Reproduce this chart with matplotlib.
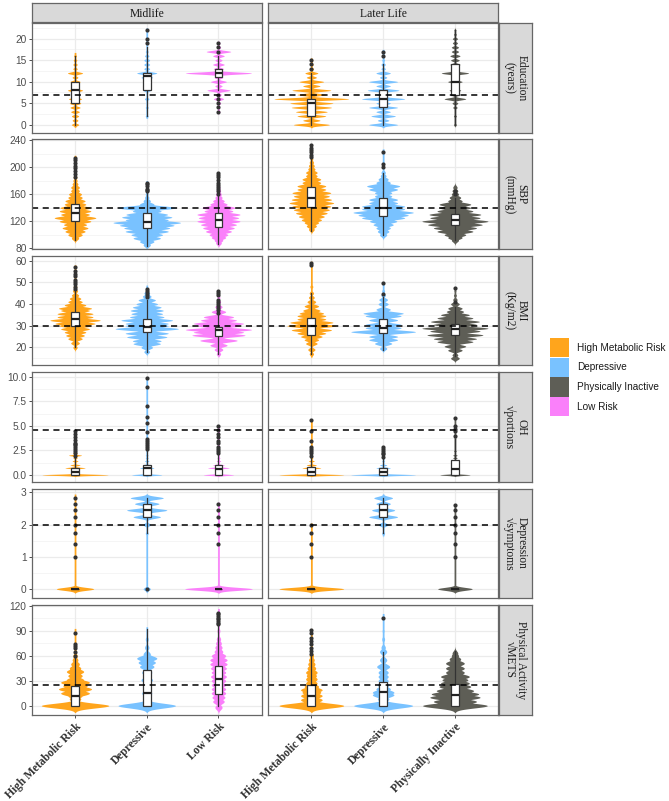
import numpy as np
import matplotlib
matplotlib.use("Agg")
import matplotlib.pyplot as plt
from matplotlib.patches import Rectangle

# ---------------- data ----------------
stages = ["Midlife", "Later Life"]
cats_mid = ["High Metabolic Risk", "Depressive", "Low Risk"]
cats_late = ["High Metabolic Risk", "Depressive", "Physically Inactive"]
legend_labels = ["High Metabolic Risk", "Depressive", "Physically Inactive", "Low Risk"]
colors = {"High Metabolic Risk": "#FFA51C", "Depressive": "#79C2FF",
          "Physically Inactive": "#5E5E56", "Low Risk": "#FA80FA"}

row_labels = ["Education\n(years)", "SBP\n(mmHg)", "BMI\n(Kg/m2)", "OH\n\u221aportions",
              "Depression\n\u221asymptoms", "Physical Activity\n\u221aMETS"]
ref_lines = [7, 140, 30, 4.6, 2, 24.5]
yticks = [[0, 5, 10, 15, 20], [80, 120, 160, 200, 240], [20, 30, 40, 50, 60],
          [0, 2.5, 5, 7.5, 10], [0, 1, 2, 3], [0, 30, 60, 90, 120]]
ytick_labels = [["0", "5", "10", "15", "20"], ["80", "120", "160", "200", "240"],
                ["20", "30", "40", "50", "60"], ["0.0", "2.5", "5.0", "7.5", "10.0"],
                ["0", "1", "2", "3"], ["0", "30", "60", "90", "120"]]

# violin ranges (min,max), density peaks (value, half width), box (wlo,q1,med,q3,whi), outliers
# order: mid HMR, mid Dep, mid LR, late HMR, late Dep, late PI
edu_range = [(-0.6, 16.8), (1.5, 22.5), (3, 19), (-0.7, 15.5), (-0.7, 17.5), (-0.3, 22)]
edu_peaks = [
    [(0, .05), (1, .04), (2, .05), (3, .06), (4, .07), (5, .08), (6, .09), (7, .06), (8, .105), (9, .05),
     (10, .07), (11, .04), (12, .105), (13, .03), (14, .03), (15, .025), (16, .02)],
    [(2, .02), (4, .02), (6, .03), (8, .05), (9, .04), (10, .05), (11, .08), (12, .14), (13, .04), (14, .04),
     (15, .04), (16, .03), (17, .02)],
    [(3, .02), (5, .03), (6, .07), (7, .04), (8, .16), (9, .05), (10, .11), (11, .06), (12, .46), (13, .07),
     (14, .08), (15, .05), (16, .08), (17, .17), (18, .03), (19, .02)],
    [(0, .25), (1, .12), (2, .2), (3, .22), (4, .28), (5, .3), (6, .52), (7, .2), (8, .27), (9, .12),
     (10, .17), (11, .07), (12, .09), (13, .03), (14, .025), (15, .02)],
    [(0, .2), (1, .08), (2, .17), (3, .1), (4, .2), (5, .1), (6, .3), (7, .1), (8, .22), (9, .1), (10, .2),
     (11, .05), (12, .1), (13, .03), (14, .03), (15, .02), (16, .02), (17, .015)],
    [(0, .02), (2, .02), (4, .03), (5, .04), (6, .15), (7, .06), (8, .08), (9, .06), (10, .1), (11, .06),
     (12, .19), (13, .06), (14, .07), (15, .06), (16, .07), (17, .05), (18, .05), (19, .035), (20, .035),
     (21, .02), (22, .015)]]
edu_box = [(0, 5, 8, 10, 16), (2, 8, 11.3, 12, 18), (8, 11, 12, 13, 16),
           (0, 2, 5, 6, 12), (0, 4, 6, 8, 14), (0, 7, 10, 14, 22)]
edu_out = [[], [19, 20, 22], [3, 4, 5, 6, 7, 17, 18, 19], [13, 14, 15], [16, 17], []]

sbp_range = [(92.5, 217.5), (83, 180), (85, 192.5), (105, 234.5), (98, 227), (90, 172)]
sbp_peaks = [
    [(95, .05), (100, .1), (105, .14), (110, .18), (115, .16), (120, .22), (125, .29), (130, .2), (135, .22),
     (140, .21), (145, .15), (150, .14), (155, .1), (160, .09), (165, .06), (170, .06), (175, .04),
     (180, .03), (185, .025)],
    [(85, .05), (90, .1), (95, .19), (100, .22), (105, .3), (110, .32), (114, .38), (118, .47), (122, .3),
     (126, .35), (130, .29), (135, .2), (140, .4), (145, .1), (150, .05), (155, .03), (160, .02)],
    [(88, .04), (92, .06), (96, .1), (100, .13), (105, .18), (110, .22), (115, .25), (120, .3), (125, .28),
     (130, .3), (135, .2), (140, .23), (145, .12), (150, .08), (155, .05), (160, .04), (165, .03),
     (170, .02)],
    [(108, .04), (113, .07), (118, .1), (122, .14), (127, .18), (132, .22), (137, .25), (142, .27),
     (147, .31), (152, .28), (157, .25), (162, .27), (167, .2), (172, .2), (177, .13), (182, .13),
     (187, .08), (192, .08), (197, .05), (202, .04), (207, .03), (212, .02)],
    [(100, .05), (105, .08), (110, .1), (115, .14), (120, .19), (125, .3), (129, .35), (133, .42),
     (138, .3), (142, .3), (147, .2), (152, .2), (157, .12), (162, .12), (167, .2), (172, .23), (177, .1),
     (182, .07), (187, .04), (192, .03)],
    [(92, .05), (96, .1), (100, .15), (105, .25), (110, .3), (115, .38), (120, .46), (125, .35), (130, .36),
     (135, .25), (140, .22), (145, .22), (150, .1), (155, .08), (160, .05), (165, .04), (170, .03)]]
sbp_box = [(93, 120, 132, 146, 184), (84, 110, 118.5, 131.5, 162), (86, 111, 122, 132.5, 158),
           (106, 141, 154, 170, 213), (99, 128.5, 140, 154, 192), (92, 114, 122.5, 130, 154)]
sbp_out = [[186, 190, 194, 198, 202, 206, 210, 214], [164, 166, 168, 172, 175, 177],
           [160, 164, 168, 171, 174, 177, 181, 185, 189, 191],
           [215, 218, 222, 226, 229, 232], [200, 205, 223], [160, 165]]

bmi_range = [(19.4, 58), (17, 48.7), (16.3, 46.4), (15.6, 59.7), (18.7, 50.4), (14, 48)]
bmi_peaks = [
    [(20, .03), (22, .06), (24, .1), (25.5, .13), (27, .15), (28.5, .2), (30, .22), (31, .28), (32.5, .35),
     (34, .25), (35.5, .25), (37, .2), (38, .23), (39.5, .15), (41, .1), (42.5, .08), (44, .05),
     (46, .035), (48, .025), (50, .02)],
    [(18, .04), (20, .08), (21.7, .19), (23, .2), (24.8, .28), (26.5, .3), (28.6, .44), (30, .3), (31, .3),
     (32.5, .36), (34, .24), (35.5, .22), (37, .23), (38.5, .2), (40, .15), (41.8, .12), (43.5, .06),
     (45, .04), (47, .02)],
    [(17, .03), (19, .06), (21, .12), (23.2, .26), (25.6, .37), (27, .35), (28.2, .46), (30, .3), (31, .35),
     (32.5, .25), (34, .21), (36.4, .1), (38.7, .05), (41, .03), (43, .02)],
    [(17, .03), (19, .05), (21.8, .08), (23.5, .1), (25, .15), (26.5, .2), (28, .28), (30, .34),
     (31.5, .3), (33, .2), (34.5, .2), (35.7, .17), (37, .12), (39, .1), (41, .06), (43, .04), (45, .03),
     (48, .02)],
    [(19.5, .05), (21.8, .12), (23.5, .2), (25, .2), (27.2, .45), (29, .25), (30.5, .25), (32.6, .2),
     (34.5, .25), (35.7, .28), (37.5, .1), (40, .07), (42, .06), (44, .03), (46, .02)],
    [(15, .06), (16.5, .04), (18.7, .1), (20.5, .15), (22.6, .25), (24, .3), (25.7, .39), (27.5, .35),
     (28.8, .46), (30.5, .3), (31.9, .34), (33.5, .25), (35, .2), (36.5, .12), (38, .1), (40, .06),
     (42, .03), (44, .02), (46, .015)]]
bmi_box = [(20, 30, 33, 36.5, 46), (18, 27, 29.5, 33, 42), (17, 25.3, 27.8, 29.2, 35),
           (17, 25.7, 30, 33.4, 45), (19, 26.4, 28.8, 33, 43), (16, 25.7, 28.3, 31, 38.5)]
bmi_out = [[47, 48, 49, 50, 51, 53, 54, 55, 57], [43, 44, 45, 46, 47],
           [36, 37, 38, 39, 40, 41, 42, 44, 45, 46], [58, 59], [44.5, 49.6], [41, 47.3]]

oh_range = [(-0.1, 4.6), (-0.1, 9.9), (-0.1, 5.0), (-0.1, 5.7), (-0.1, 2.9), (-0.1, 5.8)]
oh_peaks = [
    [(0, .46), (0.71, .14), (1.0, .07), (1.41, .04), (1.73, .03), (2.0, .09), (2.24, .03), (2.5, .02)],
    [(0, .21), (0.71, .1), (1.0, .06), (1.41, .03), (1.73, .02), (2.0, .02)],
    [(0, .21), (0.71, .15), (1.0, .08), (1.41, .03), (1.73, .02)],
    [(0, .45), (0.71, .13), (1.0, .07), (1.41, .04), (1.73, .02)],
    [(0, .45), (0.71, .1), (1.0, .05), (1.41, .02)],
    [(0, .21), (0.71, .05), (1.0, .04), (1.41, .03), (1.73, .03), (2.0, .03), (2.45, .02)]]
oh_box = [(0, 0, 0.3, 0.75, 1.8), (0, 0, 0.7, 1.0, 2.45), (0, 0, 0.58, 1.0, 2.0),
          (0, 0, 0.3, 0.78, 1.7), (0, 0, 0.3, 0.68, 1.7), (0, 0, 0.6, 1.53, 3.7)]
oh_out = [[1.9, 2.2, 2.45, 2.65, 2.83, 3.0, 3.16, 3.3, 3.6, 3.9, 4.2, 4.5],
          [2.65, 2.83, 3.0, 3.3, 3.5, 3.7, 4.4, 5.3, 5.9, 7.0, 9.0, 9.9],
          [2.2, 2.45, 2.65, 2.83, 3.3, 3.5, 3.9, 4.2, 4.6, 5.0],
          [1.9, 2.2, 2.45, 2.65, 2.83, 3.5, 4.5, 5.6], [1.85, 2.1, 2.25, 2.45, 2.65, 2.83],
          [4.0, 4.5, 4.7, 5.0, 5.8]]

dep_range = [(-0.1, 2.95), (-0.1, 2.95), (-0.1, 2.7), (-0.1, 2.05), (1.65, 2.95), (-0.1, 2.65)]
dep_peaks = [
    [(0, .26)],
    [(0, .05), (1.73, .02), (2.0, .05), (2.24, .19), (2.45, .28), (2.65, .17), (2.83, .23)],
    [(0, .47)],
    [(0, .45)],
    [(1.73, .02), (2.0, .07), (2.24, .2), (2.45, .16), (2.65, .1), (2.83, .13)],
    [(0, .24)]]
dep_box = [(0, 0, 0, 0, 0), (1.73, 2.25, 2.45, 2.65, 2.83), (0, 0, 0, 0, 0),
           (0, 0, 0, 0, 0), (1.73, 2.25, 2.45, 2.65, 2.83), (0, 0, 0, 0, 0)]
dep_out = [[1.0, 1.41, 1.73, 2.0, 2.24, 2.45, 2.65, 2.83], [0],
           [1.41, 1.73, 2.0, 2.24, 2.45, 2.65], [1.0, 1.41, 1.73, 2.0], [],
           [1.0, 1.41, 1.73, 2.0, 2.24, 2.45, 2.6]]

pa_range = [(-3, 93), (-3, 95), (-6, 117), (-3, 93), (-3, 111), (-3, 67)]
pa_peaks = [
    [(0, .47), (8, .08), (12, .1), (15, .2), (20, .23), (24, .17), (28, .2), (31, .12), (36, .1), (41, .12),
     (45, .08), (50, .06), (55, .04), (60, .03), (65, .02)],
    [(0, .4), (8, .05), (15, .07), (22, .06), (31, .08), (40, .07), (47, .1), (52, .12), (57, .14),
     (62, .05), (70, .03), (80, .02)],
    [(-2, .05), (5, .08), (10, .09), (15, .1), (20, .1), (25, .1), (30, .1), (35, .11), (40, .1), (45, .11),
     (50, .12), (55, .12), (60, .1), (65, .06), (70, .05), (75, .04), (80, .03), (90, .02), (100, .015)],
    [(0, .45), (7, .15), (12, .15), (16, .13), (19, .15), (23, .1), (27, .08), (32, .08), (36, .07),
     (40, .08), (45, .06), (50, .05), (55, .04), (60, .03)],
    [(0, .41), (8, .08), (13, .15), (16, .15), (20, .1), (25, .08), (30, .07), (35, .07), (40, .07),
     (47, .09), (55, .05), (65, .05), (70, .03), (80, .02), (90, .015)],
    [(0, .45), (5, .3), (10, .35), (14, .33), (18, .26), (23, .22), (27, .2), (31, .18), (35, .2), (40, .13),
     (45, .13), (51, .13), (56, .08), (60, .05), (63, .04)]]
pa_box = [(0, 0, 12, 23.2, 57), (0, 0, 15, 42.4, 92), (0, 14.4, 32, 48, 96),
          (0, 0, 12, 25.2, 60), (0, 0, 16, 29, 65), (0, 0, 13, 26.4, 66)]
pa_out = [[60, 65, 70, 72, 74, 88], [], [98, 100, 102, 104, 106, 108, 110, 112],
          [62, 66, 70, 74, 78, 82, 87, 91], [106], []]

rows = [(edu_range, edu_peaks, edu_box, edu_out),
        (sbp_range, sbp_peaks, sbp_box, sbp_out),
        (bmi_range, bmi_peaks, bmi_box, bmi_out),
        (oh_range, oh_peaks, oh_box, oh_out),
        (dep_range, dep_peaks, dep_box, dep_out),
        (pa_range, pa_peaks, pa_box, pa_out)]

# ---------------- style / layout ----------------
ylims = [(-1.85, 23.65), (79, 241), (11.7, 62.2), (-0.71, 10.48), (-0.29, 3.12), (-10.8, 121.2)]
bump_sigma = [0.24, 2.6, 0.7, 0.06, 0.045, 2.8]
W, H = 669, 801
col_x = [(32, 261.5), (268.3, 498)]
row_top0, row_step, row_h = 23, 116.4, 109.6
serif = ["Liberation Serif", "DejaVu Serif"]
sans = ["Liberation Sans", "DejaVu Sans"]


def fr(x0, y0, x1, y1):
    return [x0 / W, 1 - y1 / H, (x1 - x0) / W, (y1 - y0) / H]


fig = plt.figure(figsize=(W / 100, H / 100), dpi=100)


def violin(ax, xc, yr, peaks, s, color):
    lo = min(yr[0], min(p[0] for p in peaks) - 3 * s)
    hi = max(yr[1], max(p[0] for p in peaks) + 3 * s)
    y = np.linspace(lo, hi, 2000)
    w = np.where((y >= yr[0]) & (y <= yr[1]), 0.012, 0.0)
    for c, h in peaks:
        w = np.maximum(w, h * np.exp(-0.5 * ((y - c) / s) ** 2))
    ax.fill_betweenx(y, xc - w, xc + w, where=w > 0, color=color, lw=0, zorder=2)


def boxplot(ax, xc, b, outs):
    wlo, q1, med, q3, whi = b
    ax.plot([xc, xc], [wlo, q1], color="#333333", lw=0.9, zorder=3)
    ax.plot([xc, xc], [q3, whi], color="#333333", lw=0.9, zorder=3)
    bw = 0.055
    ax.add_patch(Rectangle((xc - bw, q1), 2 * bw, q3 - q1, facecolor="white",
                           edgecolor="#333333", lw=0.9, zorder=4))
    ax.plot([xc - bw, xc + bw], [med, med], color="#222222", lw=1.6, zorder=5,
            solid_capstyle="butt")
    if outs:
        ax.plot([xc] * len(outs), outs, "o", color="#333333", ms=3.0, mec="none", zorder=5)


for r in range(6):
    yr_l, pk_l, bx_l, out_l = rows[r]
    top = row_top0 + r * row_step
    for c in range(2):
        x0, x1 = col_x[c]
        ax = fig.add_axes(fr(x0, top, x1, top + row_h))
        cats = cats_mid if c == 0 else cats_late
        ax.set_xlim(0.4, 3.6)
        ax.set_ylim(*ylims[r])
        yt = yticks[r]
        minor = [(a + b) / 2 for a, b in zip(yt[:-1], yt[1:])]
        step = yt[1] - yt[0]
        if yt[0] - step / 2 > ylims[r][0]:
            minor = [yt[0] - step / 2] + minor
        if yt[-1] + step / 2 < ylims[r][1]:
            minor = minor + [yt[-1] + step / 2]
        for v in minor:
            ax.axhline(v, color="#F2F2F2", lw=0.5, zorder=0)
        for v in yt:
            ax.axhline(v, color="#EBEBEB", lw=0.9, zorder=0)
        for i in range(3):
            ax.axvline(i + 1, color="#EBEBEB", lw=0.9, zorder=0)
        for i, cat in enumerate(cats):
            k = c * 3 + i
            violin(ax, i + 1, yr_l[k], pk_l[k], bump_sigma[r], colors[cat])
            boxplot(ax, i + 1, bx_l[k], out_l[k])
        ax.axhline(ref_lines[r], color="black", lw=1.1, ls=(0, (4, 3)), zorder=6)
        ax.set_yticks(yt)
        if c == 0:
            ax.set_yticklabels(ytick_labels[r], fontsize=7.3, color="#4D4D4D", family=sans)
        else:
            ax.set_yticklabels([])
        ax.tick_params(axis="y", length=2.5, width=0.7, color="#4D4D4D", pad=1.5,
                       left=(c == 0))
        ax.set_xticks([1, 2, 3])
        if r == 5:
            ax.set_xticklabels(cats, rotation=45, ha="right", va="top", rotation_mode="anchor",
                               fontsize=8.3, fontweight="bold", color="#333333", family=serif)
            ax.tick_params(axis="x", length=2.5, width=0.7, color="#4D4D4D", pad=2)
        else:
            ax.set_xticklabels([])
            ax.tick_params(axis="x", length=0)
        for sp in ax.spines.values():
            sp.set_color("#666666")
            sp.set_linewidth(0.9)
            sp.set_zorder(10)

    # right strip
    sax = fig.add_axes(fr(498.5, top, 532, top + row_h))
    sax.set_facecolor("#D9D9D9")
    sax.set_xticks([]); sax.set_yticks([])
    for sp in sax.spines.values():
        sp.set_color("#666666"); sp.set_linewidth(0.9)
    sax.text(0.5, 0.5, row_labels[r], rotation=-90, ha="center", va="center",
             fontsize=8.3, color="#1A1A1A", family=serif, transform=sax.transAxes,
             linespacing=1.0)

# top strips
for c in range(2):
    x0, x1 = col_x[c]
    tax = fig.add_axes(fr(x0, 3.3, x1, 22.3))
    tax.set_facecolor("#D9D9D9")
    tax.set_xticks([]); tax.set_yticks([])
    for sp in tax.spines.values():
        sp.set_color("#666666"); sp.set_linewidth(0.9)
    tax.text(0.5, 0.45, stages[c], ha="center", va="center", fontsize=8.4,
             color="#1A1A1A", family=serif, transform=tax.transAxes)

# legend
for i, lab in enumerate(legend_labels):
    y0 = 338 + i * 19.7
    fig.patches.append(Rectangle((550 / W, 1 - (y0 + 19.2) / H), 19 / W, 19.2 / H,
                                 facecolor=colors[lab], edgecolor="none",
                                 transform=fig.transFigure, figure=fig))
    fig.text(577 / W, 1 - (y0 + 9.8) / H, lab, ha="left", va="center", fontsize=7.2,
             color="#1A1A1A", family=sans)

fig.savefig("out.png", dpi=100)
